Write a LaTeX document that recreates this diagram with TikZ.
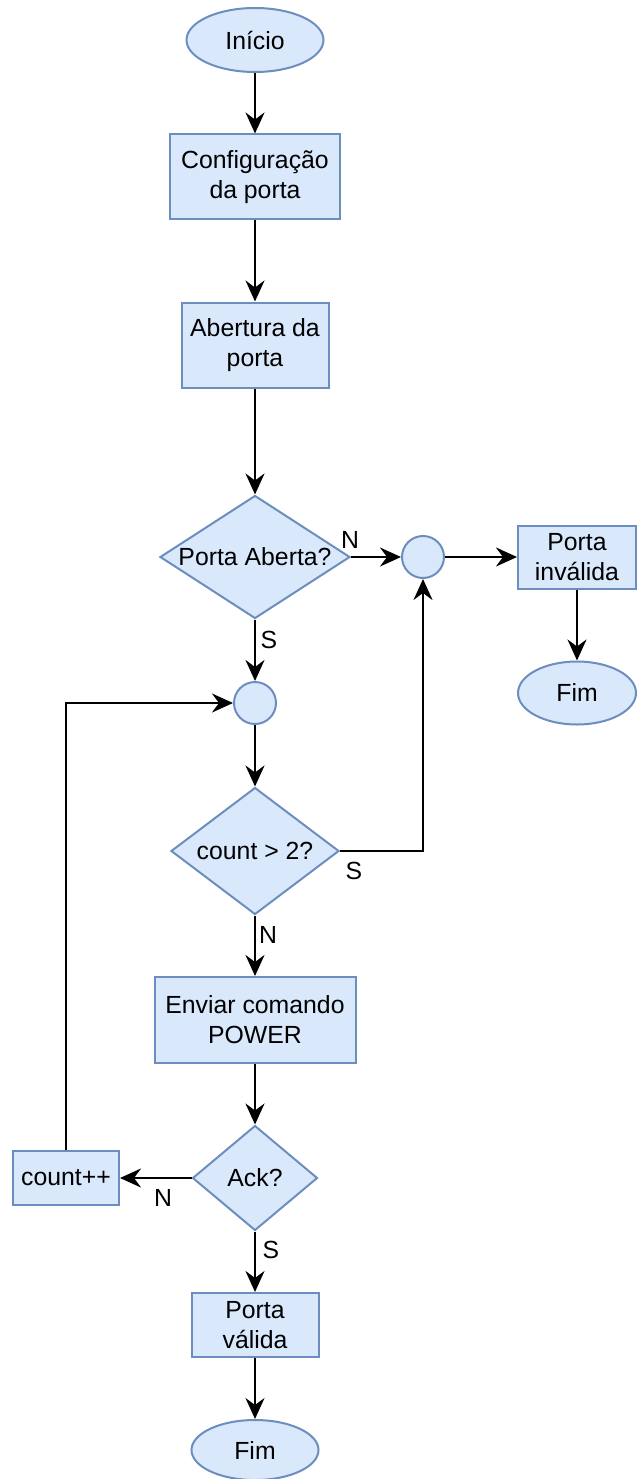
\documentclass[tikz,border=0pt]{standalone}
\usepackage{fontspec}
\setmainfont{Liberation Sans}
\usetikzlibrary{shapes.geometric,arrows.meta}
\definecolor{boxfill}{HTML}{DAE8FC}
\definecolor{boxline}{HTML}{6C8EBF}
\begin{document}
\begin{tikzpicture}[x=1pt,y=-1pt]
    \tikzstyle{every node}+=[inner sep=0pt, font=\fontsize{24.8}{30}\selectfont]
    \tikzstyle{blk}=[draw=boxline, fill=boxfill, line width=2pt, align=center]
    \tikzstyle{proc}=[blk, rectangle]
    \tikzstyle{term}=[blk, ellipse]
    \tikzstyle{junc}=[blk, circle, minimum size=42pt]
    \tikzstyle{test}=[blk, diamond]
    \tikzstyle{flow}=[line width=2.2pt, -{Stealth[length=21pt,width=19pt,inset=7pt]}]
    \useasboundingbox (0,0) rectangle (637,1479);
    \node [term, minimum width=137pt, minimum height=64pt] (inicio) at (255,40) {Início};
    \node [proc, minimum width=170pt, minimum height=85pt] (config) at (255,177) {Configuração\\da porta};
    \node [proc, minimum width=147pt, minimum height=85pt] (abertura) at (255,345) {Abertura da\\porta};
    \node [test, minimum width=190pt, minimum height=123pt, aspect=1.545] (aberta) at (255,557) {Porta Aberta?};
    \node [junc] (juncN) at (423,557) {};
    \node [proc, minimum width=118pt, minimum height=63pt] (invalida) at (577,557) {Porta\\inválida};
    \node [term, minimum width=118pt, minimum height=63pt] (fimN) at (577,693) {Fim};
    \node [junc] (juncS) at (255,703) {};
    \node [test, minimum width=168pt, minimum height=127pt, aspect=1.32] (limite) at (255,851) {count > 2?};
    \node [proc, minimum width=201pt, minimum height=86pt] (enviar) at (255,1020) {Enviar comando\\POWER};
    \node [test, minimum width=125pt, minimum height=105pt, aspect=1.19] (ack) at (255,1178) {Ack?};
    \node [proc, minimum width=106pt, minimum height=54pt] (incr) at (66,1178) {count++};
    \node [proc, minimum width=127pt, minimum height=64pt] (valida) at (255,1325) {Porta\\válida};
    \node [term, minimum width=127pt, minimum height=60pt] (fimS) at (255,1450) {Fim};
    \node (lblN1) at (350,540) {N};
    \node (lblS1) at (269,640) {S};
    \node (lblS2) at (354,871) {S};
    \node (lblN2) at (268,935) {N};
    \node (lblN3) at (163,1198) {N};
    \node (lblS3) at (271,1250) {S};
    \draw [flow] (inicio) -- (config);
    \draw [flow] (config) -- (abertura);
    \draw [flow] (abertura) -- (aberta);
    \draw [flow] (aberta.east) -- (juncN.west);
    \draw [flow] (juncN.east) -- (invalida.west);
    \draw [flow] (invalida) -- (fimN);
    \draw [flow] (aberta.south) -- (juncS.north);
    \draw [flow] (juncS.south) -- (limite.north);
    \draw [flow] (limite.east) -| (juncN.south);
    \draw [flow] (limite.south) -- (enviar.north);
    \draw [flow] (enviar.south) -- (ack.north);
    \draw [flow] (ack.west) -- (incr.east);
    \draw [flow] (incr.north) |- (juncS.west);
    \draw [flow] (ack.south) -- (valida.north);
    \draw [flow] (valida) -- (fimS);
\end{tikzpicture}
\end{document}
